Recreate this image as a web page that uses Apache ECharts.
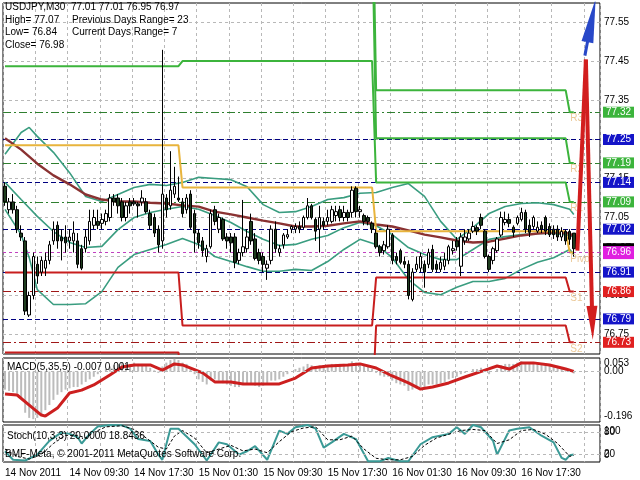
<!DOCTYPE html>
<html><head><meta charset="utf-8">
<script src="https://cdn.jsdelivr.net/npm/echarts@6/dist/echarts.min.js"></script>
<style>html,body{margin:0;padding:0;background:#fff}#c{width:640px;height:480px}</style>
</head><body><div id="c"></div>
<script>
// ---------- data ----------
const barCount = 148;
const timeLabels = ['14 Nov 2011','14 Nov 09:30','14 Nov 17:30','15 Nov 01:30','15 Nov 09:30','15 Nov 17:30','16 Nov 01:30','16 Nov 09:30','16 Nov 17:30'];
const labelEvery = 16;
const gridEvery = 8;
const priceTicks = [76.75, 76.85, 76.95, 77.05, 77.15, 77.25, 77.35, 77.45, 77.55];
// [open, close, low, high]
const candles = [
[77.13,77.09,77.08,77.14],[77.07,77.09,77.06,77.10],[77.09,77.07,77.06,77.11],[77.07,77.02,77.01,77.08],
[77.01,77.00,76.99,77.03],[76.99,76.81,76.80,77.00],[76.80,76.85,76.795,76.86],[76.85,76.95,76.84,76.96],
[76.93,76.90,76.88,76.95],[76.91,76.94,76.90,76.95],[76.92,76.94,76.90,76.96],[76.94,76.98,76.93,76.99],
[76.99,77.02,76.98,77.04],[77.03,76.99,76.97,77.04],[77.00,76.99,76.94,77.02],[77.00,76.985,76.96,77.03],
[76.99,77.00,76.97,77.02],[76.99,77.01,76.96,77.04],[76.99,76.93,76.92,77.01],[76.97,76.92,76.915,76.98],
[76.97,77.00,76.96,77.02],[76.99,77.04,76.98,77.07],[77.03,77.05,77.02,77.07],[77.04,77.03,77.02,77.07],
[77.035,77.045,77.02,77.06],[77.04,77.06,77.03,77.07],[77.05,77.10,77.04,77.11],[77.10,77.09,77.08,77.11],
[77.10,77.08,77.06,77.11],[77.09,77.05,77.04,77.10],[77.05,77.08,77.04,77.09],[77.09,77.08,77.06,77.10],
[77.09,77.085,77.08,77.10],[77.085,77.08,77.05,77.09],[77.09,77.10,77.08,77.12],[77.09,77.065,77.06,77.10],
[77.06,77.03,77.02,77.07],[77.05,77.01,77.00,77.06],[77.02,76.98,76.96,77.03],[76.99,77.11,76.97,77.48],
[77.10,77.07,77.05,77.11],[77.08,77.12,77.07,77.22],[77.11,77.13,77.10,77.18],[77.10,77.095,77.09,77.155],
[77.09,77.06,77.05,77.10],[77.07,77.10,77.06,77.11],[77.11,77.025,77.02,77.12],[77.06,77.01,76.96,77.07],
[77.01,76.985,76.97,77.02],[76.99,76.965,76.95,77.00],[76.95,76.97,76.935,76.98],[76.975,77.06,76.97,77.07],
[77.07,77.04,77.03,77.08],[77.02,77.05,77.01,77.06],[77.045,76.995,76.99,77.05],[77.00,76.99,76.97,77.01],
[77.00,76.985,76.96,77.01],[77.00,76.935,76.92,77.01],[76.94,76.96,76.93,76.97],[76.96,76.975,76.95,77.095],
[76.97,77.00,76.96,77.02],[77.04,76.99,76.98,77.06],[76.995,76.945,76.94,77.01],[76.96,76.94,76.93,76.97],
[76.95,76.93,76.91,76.96],[76.92,76.93,76.89,76.94],[76.94,77.02,76.93,77.03],[77.02,76.97,76.96,77.04],
[76.96,76.97,76.95,76.98],[76.98,77.005,76.97,77.01],[77.00,77.006,76.995,77.02],[77.02,77.027,77.01,77.03],
[77.02,77.027,77.01,77.035],[77.027,77.02,77.01,77.04],[77.025,77.05,77.02,77.055],[77.05,77.08,77.045,77.10],
[77.08,77.05,77.045,77.085],[77.045,77.015,76.99,77.05],[77.02,77.05,76.96,77.08],[77.04,77.03,77.02,77.05],
[77.04,77.05,77.03,77.07],[77.04,77.07,77.035,77.08],[77.055,77.065,77.04,77.08],[77.07,77.05,77.04,77.08],
[77.05,77.063,77.04,77.08],[77.063,77.05,77.04,77.07],[77.063,77.12,77.05,77.13],[77.125,77.065,77.05,77.13],
[77.065,77.07,77.05,77.08],[77.055,77.04,77.03,77.06],[77.05,77.04,77.03,77.055],[77.035,77.02,77.01,77.04],
[77.01,76.975,76.97,77.02],[76.975,76.96,76.95,76.98],[76.965,76.98,76.955,76.99],[76.975,77.02,76.97,77.03],
[77.005,76.94,76.93,77.01],[76.95,76.94,76.93,76.96],[76.965,76.935,76.93,76.97],[76.937,76.93,76.92,76.95],
[76.93,76.85,76.84,76.94],[76.84,76.91,76.835,76.92],[76.917,76.93,76.91,76.95],[76.92,76.95,76.91,76.96],
[76.93,76.91,76.87,76.94],[76.93,76.96,76.92,76.97],[76.968,76.917,76.91,76.98],[76.93,76.917,76.91,76.94],
[76.917,76.935,76.91,76.95],[76.925,76.942,76.915,76.96],[76.94,76.975,76.93,76.98],[76.965,76.97,76.955,76.99],
[76.99,76.975,76.965,77.00],[76.925,77.00,76.90,77.01],[76.99,77.00,76.98,77.02],[76.995,77.01,76.99,77.02],
[77.015,77.027,77.01,77.04],[77.024,77.015,77.005,77.03],[77.05,77.03,77.02,77.06],[77.015,76.95,76.945,77.02],
[76.95,76.917,76.91,76.955],[76.94,76.97,76.93,76.975],[76.965,76.995,76.96,77.00],[77.005,77.05,77.00,77.065],
[77.037,77.045,77.03,77.065],[77.045,77.035,77.025,77.06],[77.025,77.012,77.00,77.03],[77.035,77.05,77.03,77.055],
[77.045,77.063,77.04,77.075],[77.063,77.02,77.01,77.07],[77.03,77.012,77.00,77.045],[77.027,77.05,77.02,77.055],
[77.015,77.025,77.01,77.04],[77.03,77.02,77.01,77.04],[77.05,77.015,77.005,77.055],[77.027,77.006,77.00,77.035],
[77.02,77.006,76.995,77.03],[77.02,77.00,76.99,77.03],[77.00,77.014,76.99,77.025],[77.014,76.99,76.98,77.02],
[77.014,76.994,76.98,77.02],[77.01,76.97,76.95,77.01]
];
// Bollinger bands and moving average: [bar index, price]
const upperBand = [[0,77.212],[4,77.268],[6,77.281],[8,77.258],[12,77.217],[16,77.165],[20,77.104],[24,77.091],[28,77.109],[32,77.127],[36,77.135],[40,77.132],[44,77.140],[48,77.153],[52,77.150],[56,77.147],[60,77.129],[64,77.083],[68,77.063],[72,77.065],[76,77.078],[80,77.096],[84,77.101],[88,77.112],[92,77.114],[96,77.127],[100,77.137],[104,77.104],[108,77.040],[112,76.994],[116,77.024],[120,77.060],[124,77.078],[128,77.086],[132,77.088],[136,77.083],[140,77.071],[141,77.058]];
const middleBand = [[0,77.140],[4,77.096],[8,77.053],[12,77.014],[16,76.986],[20,76.973],[24,76.976],[28,77.019],[32,77.050],[36,77.063],[40,77.071],[44,77.078],[48,77.071],[52,77.055],[56,77.037],[60,77.014],[64,76.994],[68,76.978],[72,76.981],[76,76.994],[80,77.004],[84,77.024],[88,77.037],[92,77.029],[96,77.006],[100,76.973],[104,76.955],[108,76.942],[112,76.942],[116,76.968],[120,76.994],[124,77.001],[128,77.006],[132,77.009],[136,77.009],[140,77.004],[141,76.999]];
const lowerBand = [[0,77.071],[4,77.006],[6,76.947],[8,76.865],[12,76.827],[16,76.827],[20,76.829],[24,76.860],[28,76.922],[32,76.955],[36,76.968],[40,76.981],[44,76.996],[48,76.981],[52,76.950],[56,76.937],[60,76.924],[64,76.912],[68,76.912],[72,76.917],[76,76.914],[80,76.937],[84,76.968],[88,76.994],[92,76.981],[96,76.947],[100,76.891],[104,76.858],[108,76.852],[112,76.871],[116,76.886],[120,76.886],[124,76.894],[128,76.917],[132,76.935],[136,76.947],[140,76.968],[141,76.955]];
const movingAverage = [[0,77.253],[4,77.224],[8,77.188],[12,77.158],[16,77.135],[20,77.109],[24,77.096],[28,77.091],[32,77.091],[36,77.088],[40,77.086],[44,77.081],[48,77.078],[52,77.065],[56,77.058],[60,77.050],[64,77.042],[68,77.035],[72,77.027],[76,77.027],[80,77.029],[84,77.035],[88,77.040],[92,77.032],[96,77.027],[100,77.017],[104,77.006],[108,76.999],[112,76.991],[116,76.986],[120,76.988],[124,76.996],[128,77.004],[132,77.009],[136,77.012],[140,77.009],[141,77.001]];
// daily pivot levels (one value per day)
const dayFirstBar = [0, 44, 92, 140];
const dayLastBar = [43, 91, 139, 141];
const pivotR3 = [77.90, 77.95, 77.376, 77.32];
const pivotR2 = [77.75, 77.80, 77.253, 77.19];
const pivotR1 = [77.438, 77.451, 77.140, 77.09];
const pivotP  = [77.235, 77.127, 77.015, 76.96];
const pivotS1 = [76.909, 76.773, 76.896, 76.86];
const pivotS2 = [76.704, 76.55, 76.773, 76.73];
const pivotNames = ['R3','R2','R1','Pivot','S1','S2'];
// horizontal levels
const navyLevels = [77.25, 77.14, 77.02, 76.91, 76.79];
const greenLevels = [77.32, 77.19, 77.09];
const redLevels = [76.86, 76.73];
const magentaLevels = [76.96];
const bidLevels = [76.97];
// drawn arrows: [bar index, price]
const blueArrow = [[143.75, 77.465], [145.4, 77.555]];
const redUp = [[141.9, 76.965], [144.0, 77.455]];
const redDown = [[144.0, 77.455], [145.6, 76.78]];
// MACD
const macdHist = [
-0.07,-0.075,-0.08,-0.085,-0.10,-0.16,-0.18,-0.185,-0.18,-0.17,
-0.15,-0.13,-0.11,-0.09,-0.08,-0.07,-0.065,-0.06,-0.06,-0.05,
-0.04,-0.03,-0.02,-0.01,0.0,0.01,0.02,0.025,0.03,0.035,
0.03,0.03,0.035,0.03,0.03,0.025,0.015,0.005,-0.005,0.02,
0.035,0.045,0.05,0.045,0.035,0.03,0.01,-0.01,-0.03,-0.04,
-0.05,-0.035,-0.03,-0.035,-0.045,-0.05,-0.055,-0.06,-0.06,-0.05,
-0.045,-0.05,-0.055,-0.06,-0.055,-0.05,-0.035,-0.035,-0.03,-0.02,
-0.01,0.0,0.01,0.015,0.02,0.03,0.025,0.02,0.025,0.025,
0.025,0.03,0.03,0.03,0.03,0.03,0.04,0.035,0.03,0.025,
0.02,0.01,-0.005,-0.015,-0.02,-0.02,-0.035,-0.045,-0.05,-0.055,
-0.075,-0.07,-0.065,-0.06,-0.06,-0.05,-0.05,-0.05,-0.045,-0.04,
-0.03,-0.025,-0.02,-0.01,-0.005,0.0,0.01,0.01,0.015,0.0,
-0.01,0.0,0.01,0.025,0.03,0.03,0.03,0.035,0.04,0.035,
0.03,0.035,0.03,0.03,0.03,0.025,0.02,0.015,0.01,0.005,
0.0,-0.007];
const macdSignal = [[0,-0.087],[3,-0.091],[6,-0.130],[9,-0.169],[10,-0.173],[13,-0.142],[16,-0.083],[19,-0.072],[22,-0.052],[26,-0.013],[29,0.018],[32,0.026],[36,0.026],[39,0.006],[42,0.030],[44,0.026],[49,-0.005],[52,-0.040],[56,-0.040],[59,-0.048],[63,-0.048],[68,-0.048],[72,-0.025],[76,0.014],[80,0.022],[85,0.026],[88,0.030],[92,0.014],[96,-0.017],[100,-0.044],[103,-0.068],[106,-0.060],[110,-0.044],[114,-0.021],[119,0.006],[122,0.022],[125,0.010],[128,0.034],[131,0.034],[135,0.026],[139,0.010],[141,0.001]];
const macdEdgeTicks = [0.053, -0.196];
const macdInnerTicks = [0];
// Stochastic
const stochMain = [[0,29],[2,6],[5,4],[8,20],[11,57],[14,80],[16,76],[18,67],[19,50],[21,76],[23,96],[26,100],[29,99],[31,90],[33,62],[36,57],[38,20],[39,6],[41,90],[43,90],[47,48],[50,4],[53,53],[55,48],[58,20],[60,29],[62,43],[65,6],[68,85],[70,76],[72,94],[75,100],[77,90],[79,39],[81,53],[84,76],[87,62],[90,2],[93,2],[95,11],[98,2],[100,2],[103,48],[106,67],[110,76],[112,94],[114,76],[116,100],[118,94],[121,57],[122,20],[125,85],[127,90],[130,94],[133,71],[136,53],[138,11],[139,6],[140,18],[141,20]];
const stochSignal = [[0,35],[3,15],[6,8],[9,20],[12,50],[15,72],[18,72],[20,65],[22,80],[25,95],[29,98],[32,88],[35,65],[38,40],[40,35],[42,70],[44,85],[47,65],[50,25],[53,35],[56,45],[59,30],[62,35],[65,25],[68,55],[71,82],[74,92],[77,95],[80,60],[83,60],[86,70],[89,35],[92,10],[95,6],[98,6],[101,15],[104,45],[107,65],[110,75],[113,85],[116,88],[119,85],[122,50],[125,60],[128,85],[131,88],[134,75],[137,50],[140,15],[141,18.84]];
const stochEdgeTicks = [100, 0];
const stochInnerTicks = [80, 20];

// ---------- chart ----------
const FONT = 'Liberation Sans';
const categories = [];
for (let i = 0; i < barCount; i++) categories.push('bar' + i);

function pivotSeries(vals) {
  const out = [];
  for (let d = 0; d < vals.length; d++)
    for (let i = dayFirstBar[d]; i <= dayLastBar[d]; i++) out.push([i, vals[d]]);
  return out;
}
function levelSeries(levels, lineColor, boxColor, dash, z, textColor, pad) {
  return {
    type: 'line', xAxisIndex: 0, yAxisIndex: 0, data: [], z: z, silent: true,
    markLine: {
      silent: true, symbol: 'none', animation: false, z: z,
      lineStyle: { color: lineColor === 'none' ? 'rgba(0,0,0,0)' : lineColor, width: 1, type: dash },
      label: {
        show: true, position: 'end', distance: 3, formatter: p => p.value.toFixed(2),
        color: textColor || '#fff', backgroundColor: boxColor, padding: pad || [1, 3, 0, 3],
        fontSize: 10, fontFamily: FONT, lineHeight: 10
      },
      data: levels.map(v => ({ yAxis: v }))
    }
  };
}
function plainLine(data, color, width, z, dash) {
  return { type: 'line', xAxisIndex: 0, yAxisIndex: 0, data: data, showSymbol: false, symbol: 'none',
    connectNulls: true, z: z, silent: true,
    lineStyle: { color: color, width: width, type: dash || 'solid' } };
}
const gridSplit = { show: true, interval: gridEvery - 1, lineStyle: { color: '#b8b8b8', type: [3, 3], width: 1 } };
const axisFont = { color: '#000', fontSize: 10, fontFamily: FONT };
const hidden = { axisLine: { show: false }, axisTick: { show: false }, splitLine: { show: false } };

function sideAxis(grid, min, max, ticks, fmt, rich) {
  return Object.assign({ type: 'value', gridIndex: grid, position: 'right', min: min, max: max,
    axisLabel: Object.assign({ show: true, customValues: ticks, margin: 4, showMinLabel: true, showMaxLabel: true, formatter: fmt, rich: rich }, axisFont) }, hidden);
}
const edgeRich = {
  t: { padding: [11, 0, 0, 0], fontSize: 10, fontFamily: FONT, color: '#000' },
  b: { padding: [0, 0, 11, 0], fontSize: 10, fontFamily: FONT, color: '#000' }
};

const chart = echarts.init(document.getElementById('c'), null, { renderer: 'canvas' });
const option = {
  animation: false,
  backgroundColor: '#fff',
  grid: [
    { left: 3, top: 3, width: 597, height: 351, show: true, borderColor: '#000', borderWidth: 1, backgroundColor: '#fff' },
    { left: 3, top: 358, width: 597, height: 64, show: true, borderColor: '#000', borderWidth: 1, backgroundColor: '#fff' },
    { left: 3, top: 425, width: 597, height: 37, show: true, borderColor: '#000', borderWidth: 1, backgroundColor: '#fff' }
  ],
  xAxis: [
    { type: 'category', gridIndex: 0, data: categories, boundaryGap: true, axisLine: { show: false }, axisTick: { show: false }, axisLabel: { show: false }, splitLine: gridSplit },
    { type: 'value', gridIndex: 0, min: -0.5, max: barCount - 0.5, show: false },
    { type: 'category', gridIndex: 1, data: categories, boundaryGap: true, axisLine: { show: false }, axisTick: { show: false }, axisLabel: { show: false }, splitLine: gridSplit },
    { type: 'category', gridIndex: 2, data: categories, boundaryGap: true, axisLine: { show: false }, axisTick: { show: false },
      axisLabel: Object.assign({ show: true, interval: labelEvery - 1, align: 'left', margin: 6,
        formatter: (v, i) => timeLabels[Math.round(i / labelEvery)] || '' }, axisFont),
      splitLine: gridSplit }
  ],
  yAxis: [
    sideAxis(0, 76.70, 77.60, priceTicks, v => v.toFixed(2)),
    sideAxis(1, -0.196, 0.053, macdEdgeTicks, v => v > 0 ? '{t|' + v.toFixed(3) + '}' : '{b|' + v.toFixed(3) + '}', edgeRich),
    sideAxis(1, -0.196, 0.053, macdInnerTicks, v => v.toFixed(2)),
    sideAxis(2, 0, 100, stochEdgeTicks, v => v > 50 ? '{t|' + v + '}' : '{b|' + v + '}', {
      t: { padding: [12, 0, 0, 0], fontSize: 10, fontFamily: FONT, color: '#000' },
      b: { padding: [0, 0, 14, 0], fontSize: 10, fontFamily: FONT, color: '#000' } }),
    sideAxis(2, 0, 100, stochInnerTicks, v => String(v))
  ],
  series: [
    // price grid
    { type: 'line', xAxisIndex: 0, yAxisIndex: 0, data: [], z: 1, silent: true,
      markLine: { silent: true, symbol: 'none', animation: false, z: 1, label: { show: false },
        lineStyle: { color: '#b8b8b8', type: [3, 3], width: 1 }, data: priceTicks.map(v => ({ yAxis: v })) } },
    levelSeries(bidLevels, 'none', '#000', 'solid', 2, '#000', [1, 3, 0, 3]),
    levelSeries(navyLevels, '#000080', '#1414c8', [5, 3], 3),
    levelSeries(greenLevels, '#2f7f2f', '#3cb43c', [8, 3, 2, 3], 3),
    levelSeries(redLevels, '#a01818', '#e02020', [8, 3, 2, 3], 3),
    levelSeries(magentaLevels, '#c040c0', '#e020e0', [3, 3], 4, '#fff', [2, 3, 1, 3]),
    // bands and MA
    plainLine(upperBand, '#3a9d80', 1.6, 3),
    plainLine(middleBand, '#3a9d80', 1.6, 3),
    plainLine(lowerBand, '#3a9d80', 1.6, 3),
    plainLine(movingAverage, '#8a3232', 2.4, 3),
    // pivots
    plainLine(pivotSeries(pivotR3), '#3cb43c', 2, 3),
    plainLine(pivotSeries(pivotR2), '#3cb43c', 2, 3),
    plainLine(pivotSeries(pivotR1), '#3cb43c', 2, 3),
    plainLine(pivotSeries(pivotP), '#e8b43c', 2, 3),
    plainLine(pivotSeries(pivotS1), '#c81e1e', 2, 3),
    plainLine(pivotSeries(pivotS2), '#c81e1e', 2, 3),
    // candles
    { type: 'candlestick', xAxisIndex: 0, yAxisIndex: 0, data: candles, barWidth: 3, z: 4, silent: true,
      itemStyle: { color: '#ffffff', color0: '#1e3c1e', borderColor: '#000', borderColor0: '#000', borderWidth: 1 } },
    // pivot labels
    { type: 'scatter', xAxisIndex: 0, yAxisIndex: 0, z: 5, silent: true, symbolSize: 1, itemStyle: { color: 'rgba(0,0,0,0)' },
      data: [pivotR3, pivotR2, pivotR1, pivotP, pivotS1, pivotS2].map((a, k) => ({ value: [dayLastBar[3], a[3]], name: pivotNames[k] })),
      label: { show: true, position: [-3, 2], align: 'left', verticalAlign: 'top', formatter: p => p.name,
        color: '#e6bc80', fontSize: 10, fontFamily: FONT } },
    // drawn arrows
    { type: 'lines', coordinateSystem: 'cartesian2d', xAxisIndex: 1, yAxisIndex: 0, z: 6, silent: true,
      symbol: 'none', lineStyle: { color: '#d21e1e', width: 4, opacity: 1 }, data: [{ coords: redUp }] },
    { type: 'lines', coordinateSystem: 'cartesian2d', xAxisIndex: 1, yAxisIndex: 0, z: 6, silent: true,
      symbol: ['none', 'triangle'], symbolSize: [1, [11, 34]], lineStyle: { color: '#d21e1e', width: 4, opacity: 1 }, data: [{ coords: redDown }] },
    { type: 'lines', coordinateSystem: 'cartesian2d', xAxisIndex: 1, yAxisIndex: 0, z: 6, silent: true,
      symbol: ['none', 'triangle'], symbolSize: [1, [12, 44]], lineStyle: { color: '#2848c8', width: 3, opacity: 1 }, data: [{ coords: blueArrow }] },
    // MACD
    { type: 'bar', xAxisIndex: 2, yAxisIndex: 1, data: macdHist, barWidth: 2, silent: true, itemStyle: { color: '#bcbcbc' }, z: 2,
      markLine: { silent: true, symbol: 'none', animation: false, label: { show: false },
        lineStyle: { color: '#b8b8b8', type: [3, 3], width: 1 }, data: [{ yAxis: 0 }] } },
    { type: 'line', xAxisIndex: 2, yAxisIndex: 1, data: macdSignal, showSymbol: false, symbol: 'none', silent: true, z: 3,
      lineStyle: { color: '#cc1f1f', width: 3 } },
    // Stochastic
    { type: 'line', xAxisIndex: 3, yAxisIndex: 3, data: stochMain, showSymbol: false, symbol: 'none', silent: true, z: 3,
      lineStyle: { color: '#3a9a96', width: 2 },
      markLine: { silent: true, symbol: 'none', animation: false, label: { show: false },
        lineStyle: { color: '#b8b8b8', type: [3, 3], width: 1 }, data: [{ yAxis: 80 }, { yAxis: 20 }] } },
    { type: 'line', xAxisIndex: 3, yAxisIndex: 3, data: stochSignal, showSymbol: false, symbol: 'none', silent: true, z: 3,
      lineStyle: { color: '#000', width: 1, type: [3, 2] } }
  ],
  graphic: [
    { type: 'text', left: 5, top: 2, z: 100, style: { text: 'USDJPY,M30  77.01 77.01 76.95 76.97', font: '10px "Liberation Sans"', fill: '#000' } },
    { type: 'text', left: 5, top: 15, z: 100, style: { text: 'High= 77.07', font: '10px "Liberation Sans"', fill: '#000' } },
    { type: 'text', left: 72, top: 15, z: 100, style: { text: 'Previous Days Range= 23', font: '10px "Liberation Sans"', fill: '#000' } },
    { type: 'text', left: 5, top: 27, z: 100, style: { text: 'Low= 76.84', font: '10px "Liberation Sans"', fill: '#000' } },
    { type: 'text', left: 72, top: 27, z: 100, style: { text: 'Current Days Range= 7', font: '10px "Liberation Sans"', fill: '#000' } },
    { type: 'text', left: 5, top: 40, z: 100, style: { text: 'Close= 76.98', font: '10px "Liberation Sans"', fill: '#000' } },
    { type: 'text', left: 7, top: 362, z: 100, style: { text: 'MACD(5,35,5) -0.007 0.001', font: '10px "Liberation Sans"', fill: '#000' } },
    { type: 'text', left: 7, top: 431, z: 100, style: { text: 'Stoch(10,3,3) 20.0000 18.8436', font: '10px "Liberation Sans"', fill: '#000' } },
    { type: 'text', left: 5, top: 449, z: 100, style: { text: 'BMF-Meta, \u00a9 2001-2011 MetaQuotes Software Corp.', font: '10px "Liberation Sans"', fill: '#000' } }
  ]
};
chart.setOption(option);
</script>
</body></html>
